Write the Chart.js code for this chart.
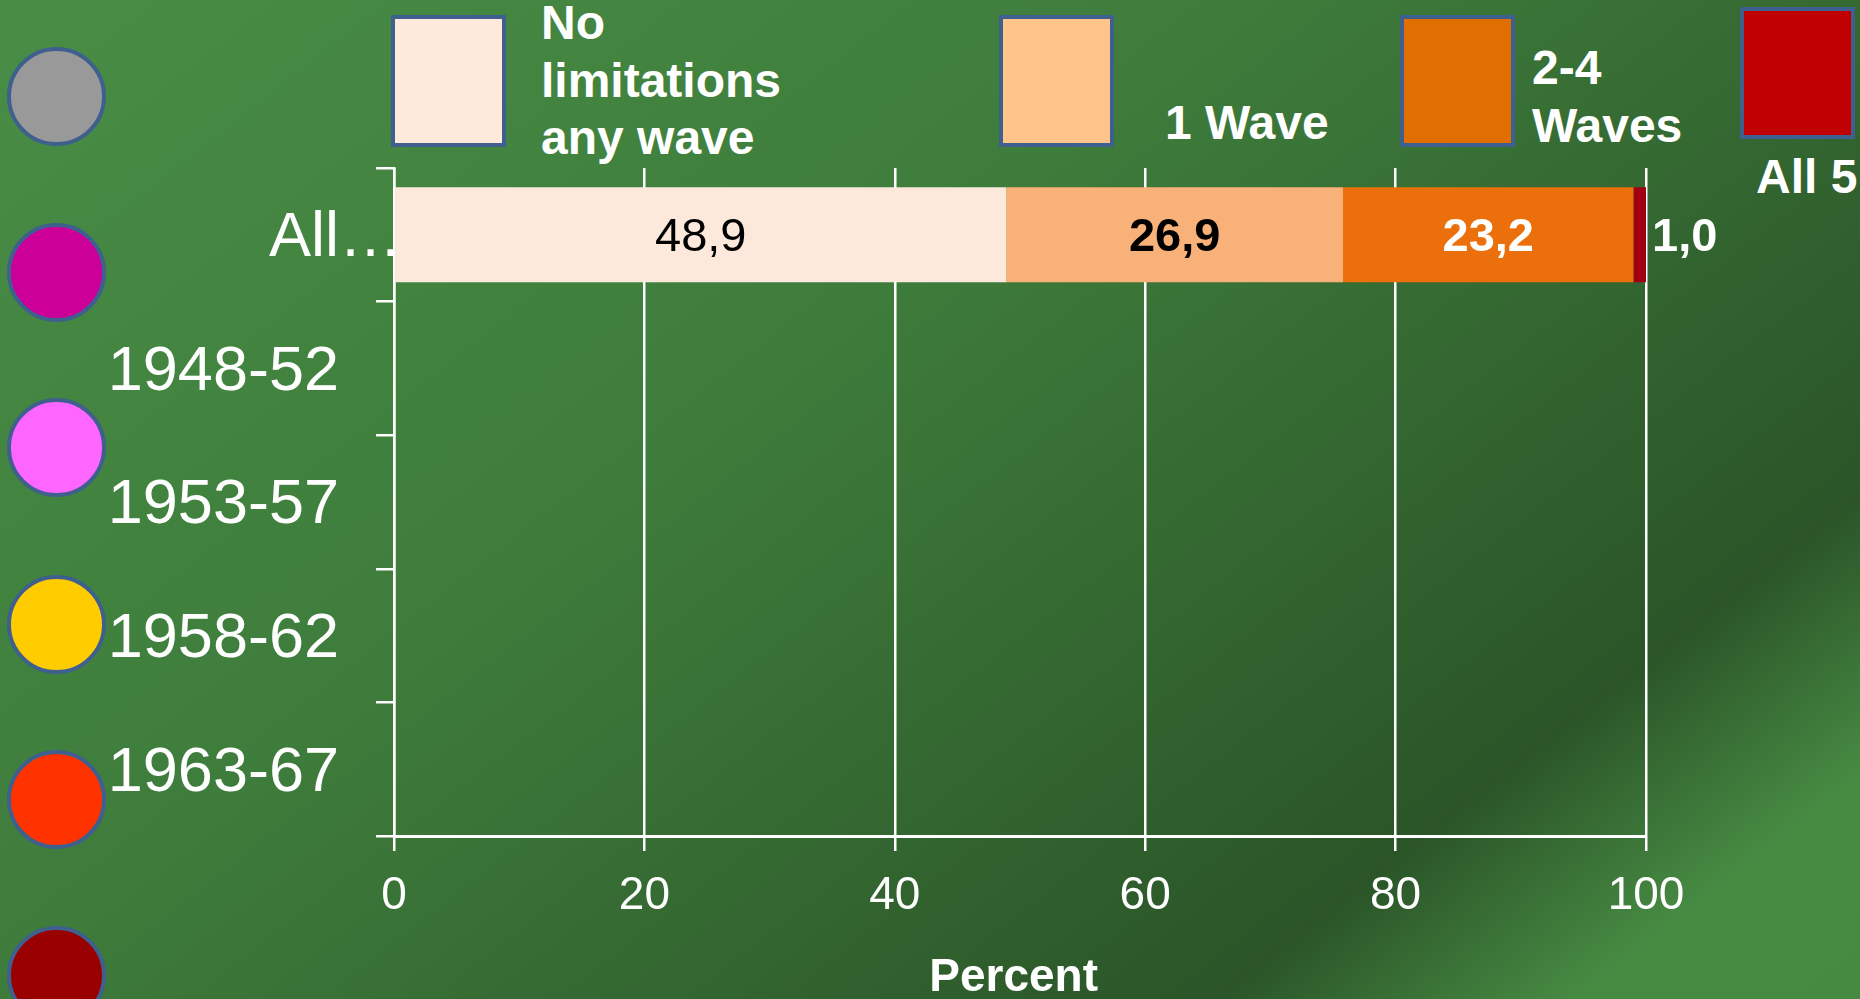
<!DOCTYPE html>
<html>
<head>
<meta charset="utf-8">
<title>Limitations by birth cohort</title>
<script src="https://cdn.jsdelivr.net/npm/chart.js@4.4.1/dist/chart.umd.min.js"></script>
<style>
  html, body { margin: 0; padding: 0; }
  body {
    width: 1860px; height: 999px; overflow: hidden; position: relative;
    background: linear-gradient(142deg, #488d46 0%, #3e7c3b 40%, #2b5528 79.5%, #478b43 91%, #468a42 100%);
    font-family: "Liberation Sans", Arial, sans-serif;
  }
  #chart { position: absolute; left: 0; top: 0; }
  .dot  { position: absolute; left: 7px; width: 91px; height: 91px;
          border: 4.5px solid #3f5f8f; border-radius: 50%; }
  .key  { position: absolute; width: 107px; height: 124px; border: 4px solid #3f5f8f; }
  .key-text { position: absolute; color: #fff; font-weight: bold; font-size: 48px;
              line-height: 57.5px; white-space: nowrap; }
</style>
</head>
<body>

<!-- cohort dots down the left edge -->
<div class="dot" style="top:47px;  background:#999999"></div>
<div class="dot" style="top:223px; background:#cc0099"></div>
<div class="dot" style="top:398px; background:#ff66ff"></div>
<div class="dot" style="top:575px; background:#ffcc00"></div>
<div class="dot" style="top:750px; background:#ff3300"></div>
<div class="dot" style="top:926px; background:#990000"></div>

<!-- legend -->
<div class="key" style="left:391px;  top:15px; background:#fdeada"></div>
<div class="key-text" style="left:541px; top:-6px">No<br>limitations<br>any wave</div>
<div class="key" style="left:999px;  top:15px; background:#ffc48a"></div>
<div class="key-text" style="left:1165px; top:94px">1 Wave</div>
<div class="key" style="left:1400px; top:15px; background:#e06e00"></div>
<div class="key-text" style="left:1532px; top:39px">2-4<br>Waves</div>
<div class="key" style="left:1740px; top:7px; background:#c00000"></div>
<div class="key-text" style="left:1756px; top:148px">All 5</div>

<canvas id="chart" width="1860" height="999"></canvas>

<script>
// ── Data ─────────────────────────────────────────────────────
const cohorts     = ['All…', '1948-52', '1953-57', '1958-62', '1963-67'];
const seriesNames = ['No limitations any wave', '1 Wave', '2-4 Waves', 'All 5'];
const noLimits    = [48.9, null, null, null, null];
const oneWave     = [26.9, null, null, null, null];
const twoToFour   = [23.2, null, null, null, null];
const allFive     = [1.0,  null, null, null, null];
const xTicks      = [0, 20, 40, 60, 80, 100];

const FONT = '"Liberation Sans", Arial, sans-serif';

// ── Value labels drawn on / beside each bar segment ──────────
const valueLabels = {
  id: 'valueLabels',
  afterDatasetsDraw(chart) {
    const ctx = chart.ctx;
    chart.data.datasets.forEach((ds, i) => {
      chart.getDatasetMeta(i).data.forEach((bar, j) => {
        const v = ds.data[j];
        if (v == null) return;
        const text = v.toFixed(1).replace('.', ',');
        const y = bar.y + 3;
        ctx.save();
        ctx.font = (ds.valueBold ? 'bold ' : '') + '47px ' + FONT;
        ctx.fillStyle = ds.valueColor;
        ctx.textBaseline = 'middle';
        if (ds.valueOutside) {
          ctx.textAlign = 'left';
          ctx.fillText(text, bar.x + 6, y);
        } else {
          ctx.textAlign = 'center';
          ctx.fillText(text, (bar.x + bar.base) / 2, y);
        }
        ctx.restore();
      });
    });
  }
};

const barOpts = { barPercentage: 0.711, categoryPercentage: 1, borderWidth: 0 };

new Chart(document.getElementById('chart'), {
  type: 'bar',
  data: {
    labels: cohorts,
    datasets: [
      { ...barOpts, label: seriesNames[0], data: noLimits,  backgroundColor: '#fde9db',
        valueColor: '#000', valueBold: false },
      { ...barOpts, label: seriesNames[1], data: oneWave,   backgroundColor: '#f9b17a',
        valueColor: '#000', valueBold: true },
      { ...barOpts, label: seriesNames[2], data: twoToFour, backgroundColor: '#eb700c',
        valueColor: '#fff', valueBold: true },
      { ...barOpts, label: seriesNames[3], data: allFive,   backgroundColor: '#a00012',
        valueColor: '#fff', valueBold: true, valueOutside: true }
    ]
  },
  options: {
    indexAxis: 'y',
    responsive: false,
    animation: false,
    layout: { padding: { top: 168, right: 214, left: 0, bottom: 0 } },
    plugins: { legend: { display: false }, tooltip: { enabled: false } },
    scales: {
      x: {
        stacked: true, min: 0, max: 100,
        afterBuildTicks: s => { s.ticks = xTicks.map(v => ({ value: v })); },
        afterFit: s => { s.height = 163; },
        grid:   { color: '#fff', lineWidth: 2.5, tickLength: 15 },
        border: { color: '#fff', width: 3 },
        ticks:  { color: '#fff', padding: 18, font: { family: FONT, size: 46 } },
        title:  { display: true, text: 'Percent ', color: '#fff', padding: { top: 0, bottom: -2 },
                  font: { family: FONT, size: 46, weight: 'bold', lineHeight: 1 } }
      },
      y: {
        stacked: true,
        afterFit: s => { s.width = 394; },
        grid:   { drawOnChartArea: false, color: '#fff', lineWidth: 2.5, tickLength: 18 },
        border: { color: '#fff', width: 2.5 },
        ticks:  {
          color: '#fff', padding: -26, labelOffset: 4, font: { family: FONT, size: 63 },
          // the truncated first label sits further right than the cohort labels
          callback: function (v, i) {
            const name = this.getLabelForValue(v);
            return i === 0 ? name : name + '\u2002\u2002';
          }
        }
      }
    }
  },
  plugins: [valueLabels]
});
</script>
</body>
</html>
